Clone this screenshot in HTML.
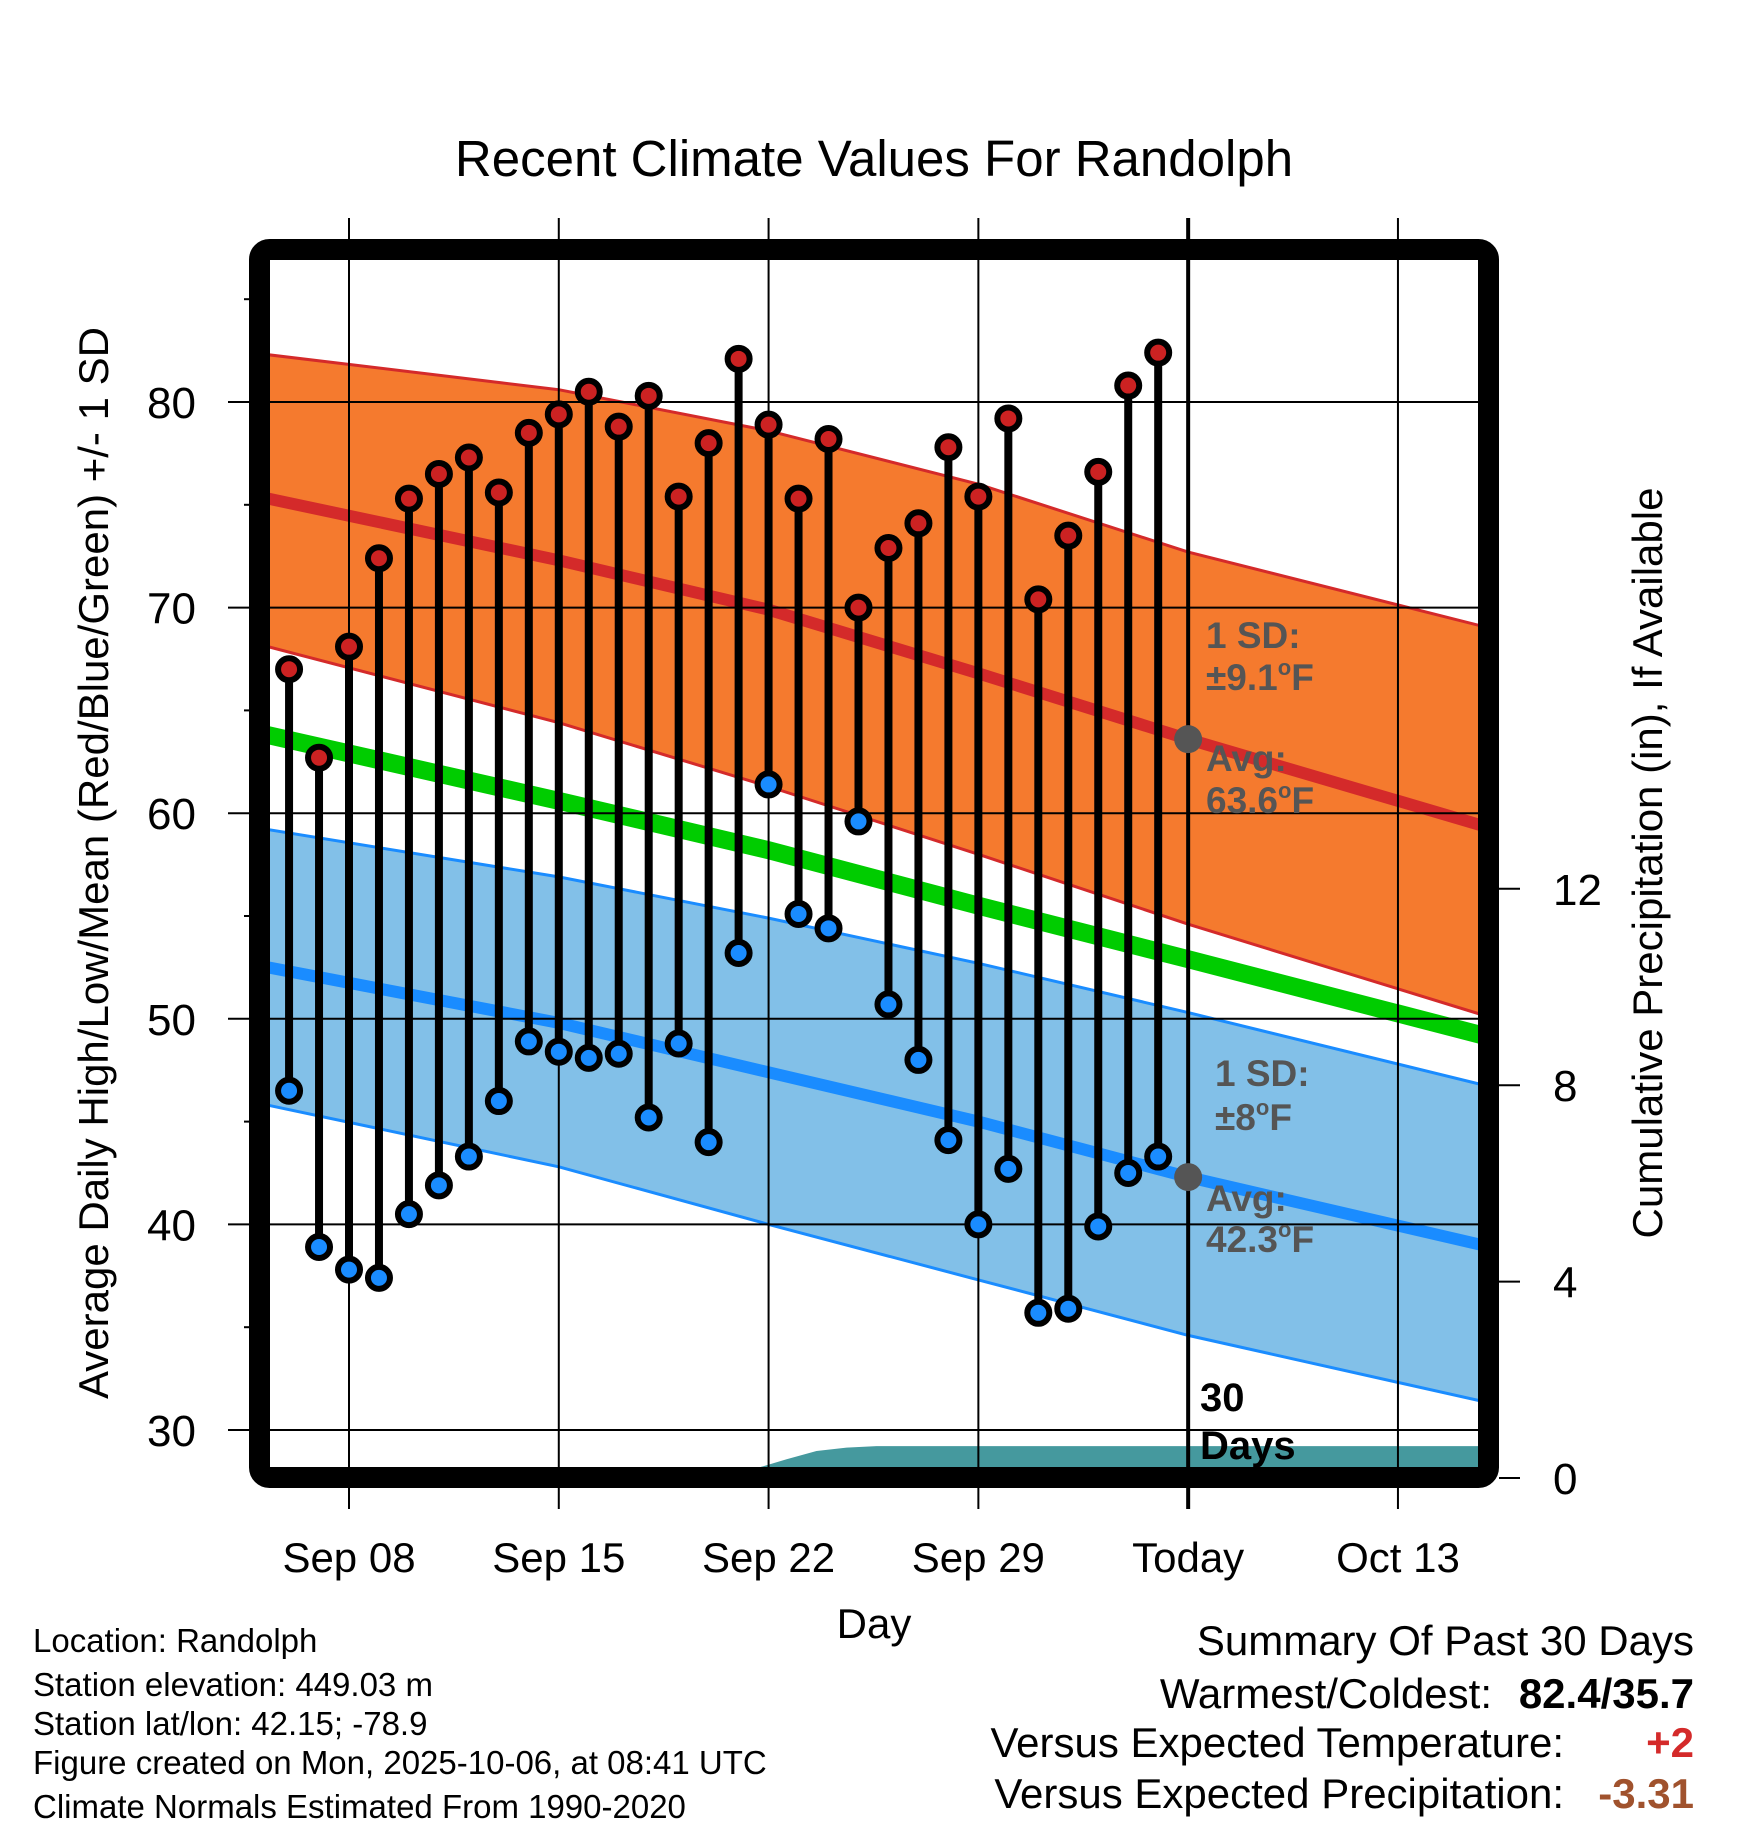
<!DOCTYPE html>
<html><head><meta charset="utf-8">
<style>
html,body{margin:0;padding:0;background:#fff;}
svg{display:block;font-family:"Liberation Sans",Arial,sans-serif;}
</style></head>
<body>
<svg id="chart" width="1748" height="1828" viewBox="0 0 1748 1828" xmlns="http://www.w3.org/2000/svg">
<defs><clipPath id="plotclip"><rect x="270" y="260" width="1208" height="1208"/></clipPath></defs>
<text x="874" y="176" font-size="51" text-anchor="middle">Recent Climate Values For Randolph</text>
<g id="plot" clip-path="url(#plotclip)"></g>
<g id="grid"></g>
<g id="marks"></g>
<g id="axes"></g>
<text transform="translate(108,863) rotate(-90)" font-size="42" text-anchor="middle">Average Daily High/Low/Mean (Red/Blue/Green) +/- 1 SD</text>
<text transform="translate(1662,863) rotate(-90)" font-size="42" text-anchor="middle">Cumulative Precipitation (in), If Available</text>
<text x="874" y="1638" font-size="42" text-anchor="middle">Day</text>
<g fill="#555" font-weight="bold" font-size="37">
<text x="1206" y="648">1 SD:</text><text x="1206" y="690">±9.1<tspan font-size="22" dy="-15">o</tspan><tspan dy="15">F</tspan></text>
<text x="1206" y="771">Avg:</text><text x="1206" y="813">63.6<tspan font-size="22" dy="-15">o</tspan><tspan dy="15">F</tspan></text>
<text x="1215" y="1086">1 SD:</text><text x="1215" y="1130">±8<tspan font-size="22" dy="-15">o</tspan><tspan dy="15">F</tspan></text>
<text x="1206" y="1211">Avg:</text><text x="1206" y="1252">42.3<tspan font-size="22" dy="-15">o</tspan><tspan dy="15">F</tspan></text>
</g>
<g font-weight="bold" font-size="40"><text x="1200" y="1411">30</text><text x="1200" y="1459">Days</text></g>
<g font-size="33">
<text x="33" y="1652">Location: Randolph</text>
<text x="33" y="1696">Station elevation: 449.03 m</text>
<text x="33" y="1735">Station lat/lon: 42.15; -78.9</text>
<text x="33" y="1774">Figure created on Mon, 2025-10-06, at 08:41 UTC</text>
<text x="33" y="1818">Climate Normals Estimated From 1990-2020</text>
</g>
<g font-size="42" text-anchor="end">
<text x="1694" y="1655">Summary Of Past 30 Days</text>
<text x="1492" y="1708">Warmest/Coldest:</text><text x="1694" y="1708" font-weight="bold">82.4/35.7</text>
<text x="1564" y="1757">Versus Expected Temperature:</text><text x="1694" y="1757" font-weight="bold" fill="#d42a2a">+2</text>
<text x="1564" y="1808">Versus Expected Precipitation:</text><text x="1694" y="1808" font-weight="bold" fill="#a0522d">-3.31</text>
</g>
</svg>
<script>
const days=[6,7,8,9,10,11,12,13,14,15,16,17,18,19,20,21,22,23,24,25,26,27,28,29,30,31,32,33,34,35];
const highs=[67.0,62.7,68.1,72.4,75.3,76.5,77.3,75.6,78.5,79.4,80.5,78.8,80.3,75.4,78.0,82.1,78.9,75.3,78.2,70.0,72.9,74.1,77.8,75.4,79.2,70.4,73.5,76.6,80.8,82.4];
const lows=[46.5,38.9,37.8,37.4,40.5,41.9,43.3,46.0,48.9,48.4,48.1,48.3,45.2,48.8,44.0,53.2,61.4,55.1,54.4,59.6,50.7,48.0,44.1,40.0,42.7,35.7,35.9,39.9,42.5,43.3];
const normDays=[5.3,15,22,29,36,45.8];
const highUpper=[82.3,80.6,78.6,76.0,72.7,69.1];
const highMean=[75.3,72.3,69.9,66.8,63.6,59.4];
const highLower=[68.1,64.4,61.3,58.0,54.6,50.2];
const meanNorm=[63.8,60.6,58.2,55.5,52.9,49.2];
const lowUpper=[59.2,56.9,54.9,52.7,50.3,46.8];
const lowMean=[52.5,49.8,47.4,45.0,42.3,39.0];
const lowLower=[45.8,42.8,40.0,37.3,34.6,31.4];
const precipDays=[5.3,21.1,21.6,22.6,23.6,24.6,25.6,45.8];
const precipVals=[0,0,0.2,0.38,0.55,0.62,0.65,0.65];
const yTicks=[30,40,50,60,70,80];
const y2Ticks=[0,4,8,12];
const xTickDays=[8,15,22,29,36,43];
const xTickLabels=["Sep 08","Sep 15","Sep 22","Sep 29","Today","Oct 13"];
const todayDay=36;

const NS="http://www.w3.org/2000/svg";
const X=d=>349+(d-8)*29.97;
const Y=v=>402+(80-v)*20.56;
const Y2=p=>1478-p*49.1;
function mk(tag,attrs,parent){const e=document.createElementNS(NS,tag);for(const k in attrs)e.setAttribute(k,attrs[k]);parent.appendChild(e);return e;}
const plot=document.getElementById('plot'),grid=document.getElementById('grid'),marks=document.getElementById('marks'),axes=document.getElementById('axes');
function pts(ds,vs,f){return ds.map((d,i)=>X(d).toFixed(1)+','+f(vs[i]).toFixed(1));}
function band(up,lo,fill,name){
  const p=pts(normDays,up,Y).concat(pts(normDays,lo,Y).reverse());
  const e=mk('polygon',{points:p.join(' '),fill:fill},plot);
  
  
}
function line(vs,stroke,w,name){
  const e=mk('polyline',{points:pts(normDays,vs,Y).join(' '),fill:'none',stroke:stroke,'stroke-width':w},plot);
  
  
}
band(highUpper,highLower,'#f57a2e','high-sd-band');
line(highUpper,'#d42a2a',3,'high-upper-edge');
line(highLower,'#d42a2a',3,'high-lower-edge');
line(highMean,'#d42a2a',12,'normal-high-line');
band(lowUpper,lowLower,'#82c0e8','low-sd-band');
line(lowUpper,'#1a8cff',3,'low-upper-edge');
line(lowLower,'#1a8cff',3,'low-lower-edge');
line(lowMean,'#1a8cff',12,'normal-low-line');
line(meanNorm,'#00cc00',18,'normal-mean-line');
{const p=pts(precipDays,precipVals,Y2);p.push(X(precipDays[precipDays.length-1]).toFixed(1)+','+Y2(0));p.push(X(precipDays[0]).toFixed(1)+','+Y2(0));
 const e=mk('polygon',{points:p.join(' '),fill:'#45999e'},plot);
 
 }
yTicks.forEach(v=>{
  const g=mk('line',{x1:228,x2:1478,y1:Y(v),y2:Y(v),stroke:'#000','stroke-width':2},grid);
  
  
  const t=mk('text',{x:196,y:Y(v)+16,'font-size':44,'text-anchor':'end'},axes);t.textContent=v;
  
  
});
for(let v=35;v<=85;v+=10){mk('line',{x1:244,x2:250,y1:Y(v),y2:Y(v),stroke:'#000','stroke-width':2},grid);}
xTickDays.forEach((d,i)=>{
  const g=mk('line',{x1:X(d),x2:X(d),y1:218,y2:1509,stroke:'#000','stroke-width':d===todayDay?4:2},grid);
  
  
  const t=mk('text',{x:X(d),y:1572,'font-size':42,'text-anchor':'middle'},axes);t.textContent=xTickLabels[i];
  
  
});
y2Ticks.forEach(p=>{
  mk('line',{x1:1499,x2:1520,y1:Y2(p),y2:Y2(p),stroke:'#000','stroke-width':2},axes);
  const t=mk('text',{x:1553,y:Y2(p)+16,'font-size':44},axes);t.textContent=p;
  
  
});
days.forEach((d,i)=>{
  const s=mk('line',{x1:X(d),x2:X(d),y1:Y(highs[i]),y2:Y(lows[i]),stroke:'#000','stroke-width':8},marks);
  
  
  const h=mk('circle',{cx:X(d),cy:Y(highs[i]),r:11,fill:'#cc2222',stroke:'#000','stroke-width':6},marks);
  
  
  const l=mk('circle',{cx:X(d),cy:Y(lows[i]),r:11,fill:'#1a8cff',stroke:'#000','stroke-width':6},marks);
  
  
});
{const a=mk('circle',{cx:X(todayDay),cy:Y(63.6),r:14,fill:'#555'},marks);
 
 
 const b=mk('circle',{cx:X(todayDay),cy:Y(42.3),r:14,fill:'#555'},marks);
 
 }
{const f=mk('rect',{x:259.5,y:249.5,width:1229,height:1228,rx:10,fill:'none',stroke:'#000','stroke-width':21},axes);
 
 }
</script>
</body></html>
